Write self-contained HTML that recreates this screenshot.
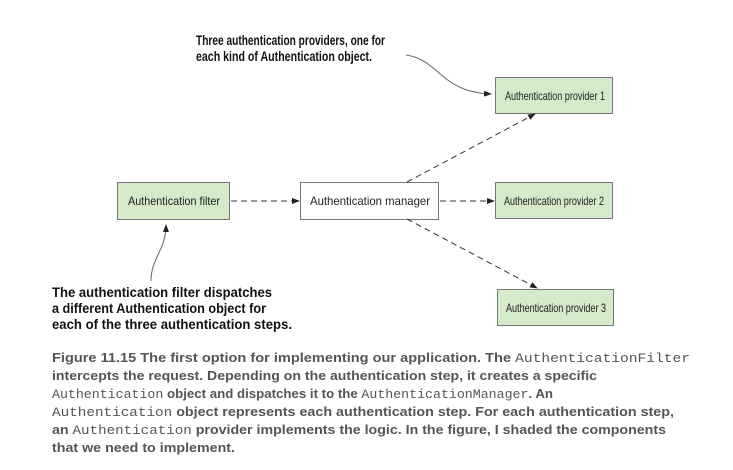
<!DOCTYPE html>
<html><head><meta charset="utf-8"><style>
html,body{margin:0;padding:0;background:#fff;}
svg{display:block}
.b{font-family:"Liberation Sans",sans-serif;font-size:12px;fill:#222}
.a{font-family:"Liberation Sans Narrow","Liberation Sans",sans-serif;font-weight:bold;font-size:14px;fill:#111}
.c{font-family:"Liberation Sans Narrow","Liberation Sans",sans-serif;font-weight:bold;font-size:13px;fill:#555}
.m{font-family:"Liberation Mono",monospace;font-weight:normal;fill:#555}
</style></head><body>
<svg width="733" height="470" viewBox="0 0 733 470" xmlns="http://www.w3.org/2000/svg">
<defs><marker id="ar" markerWidth="8" markerHeight="6" refX="7" refY="3" orient="auto" markerUnits="userSpaceOnUse"><path d="M0,0 L8,3 L0,6z" fill="#222"/></marker></defs>
<rect x="117.5" y="182.5" width="112" height="37" fill="#d4eacb" stroke="#777"/>
<text class="b" x="128" y="205" textLength="92" lengthAdjust="spacingAndGlyphs">Authentication filter</text>
<rect x="300.5" y="182.5" width="138" height="37" fill="#fff" stroke="#777"/>
<text class="b" x="310" y="205" textLength="120" lengthAdjust="spacingAndGlyphs">Authentication manager</text>
<rect x="495.5" y="77.5" width="117" height="36" fill="#d4eacb" stroke="#777"/>
<text class="b" x="505" y="100" textLength="100" lengthAdjust="spacingAndGlyphs">Authentication provider 1</text>
<rect x="495.5" y="182.5" width="117" height="36" fill="#d4eacb" stroke="#777"/>
<text class="b" x="504" y="205" textLength="100" lengthAdjust="spacingAndGlyphs">Authentication provider 2</text>
<rect x="497.5" y="289.5" width="116" height="36" fill="#d4eacb" stroke="#777"/>
<text class="b" x="506" y="312" textLength="100" lengthAdjust="spacingAndGlyphs">Authentication provider 3</text>
<g stroke="#333" stroke-dasharray="6,4" fill="none" marker-end="url(#ar)">
<line x1="231" y1="201" x2="299" y2="201"/>
<line x1="440" y1="201" x2="494" y2="201"/>
<line x1="407" y1="182" x2="535" y2="114"/>
<line x1="407" y1="219" x2="537" y2="288"/>
</g>
<path d="M406,55 C440,60 440,92 491,94" stroke="#666" fill="none" marker-end="url(#ar)"/>
<path d="M151,281 C151,258 166,250 166,225" stroke="#666" fill="none" marker-end="url(#ar)"/>
<text class="a" x="196" y="45" textLength="189" lengthAdjust="spacingAndGlyphs">Three authentication providers, one for</text>
<text class="a" x="196" y="61" textLength="176" lengthAdjust="spacingAndGlyphs">each kind of Authentication object.</text>
<text class="a" x="52" y="297" textLength="220" lengthAdjust="spacingAndGlyphs">The authentication filter dispatches</text>
<text class="a" x="52" y="313" textLength="214" lengthAdjust="spacingAndGlyphs">a different Authentication object for</text>
<text class="a" x="52" y="329" textLength="240" lengthAdjust="spacingAndGlyphs">each of the three authentication steps.</text>
<text class="c" x="52" y="362" textLength="638" lengthAdjust="spacingAndGlyphs">Figure 11.15    The first option for implementing our application. The <tspan class="m">AuthenticationFilter</tspan></text>
<text class="c" x="52" y="380" textLength="545" lengthAdjust="spacingAndGlyphs">intercepts the request. Depending on the authentication step, it creates a specific</text>
<text class="c" x="52" y="398" textLength="501" lengthAdjust="spacingAndGlyphs"><tspan class="m">Authentication</tspan> object and dispatches it to the <tspan class="m">AuthenticationManager</tspan>. An</text>
<text class="c" x="52" y="416" textLength="622" lengthAdjust="spacingAndGlyphs"><tspan class="m">Authentication</tspan> object represents each authentication step. For each authentication step,</text>
<text class="c" x="52" y="434" textLength="614" lengthAdjust="spacingAndGlyphs">an <tspan class="m">Authentication</tspan> provider implements the logic. In the figure, I shaded the components</text>
<text class="c" x="52" y="452" textLength="183" lengthAdjust="spacingAndGlyphs">that we need to implement.</text>
</svg>
</body></html>
